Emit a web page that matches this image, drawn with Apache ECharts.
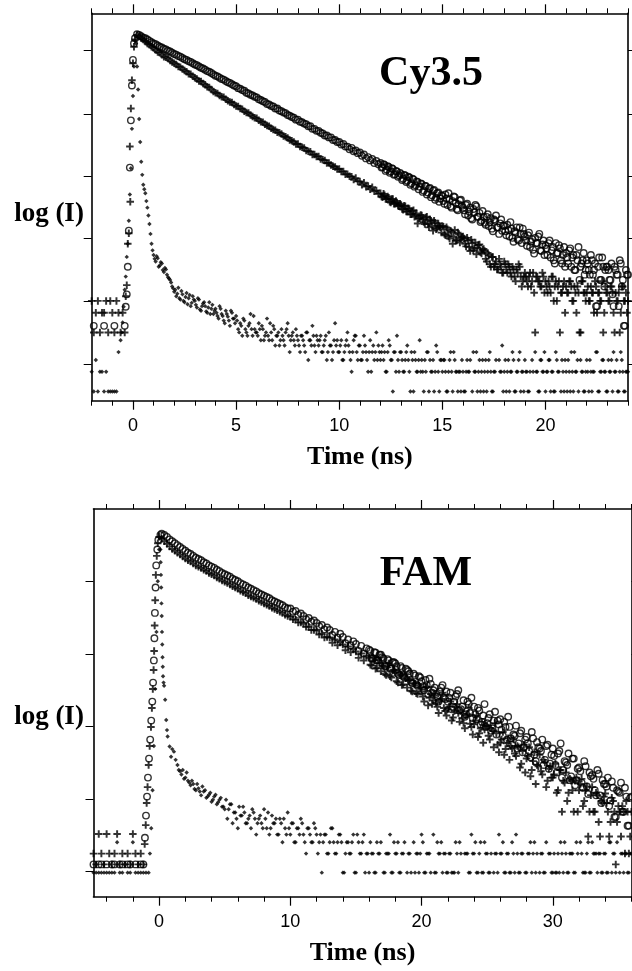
<!DOCTYPE html>
<html><head><meta charset="utf-8">
<script src="https://cdn.jsdelivr.net/npm/echarts@6/dist/echarts.min.js"></script>
<style>html,body{margin:0;padding:0;background:#fff}#c{width:632px;height:971px}</style>
</head><body><div id="c"></div>
<script>
// ---------- Cy3.5 panel (time base: -2 ns, 0.1 ns per channel) ----------
const cyT0 = -2, cyStep = 0.1;
const cyXMin = -2, cyXMax = 24;
const cyYMin = -0.14, cyYMax = 5.76;
const cyMinorTicks = [-2,-1,1,2,3,4,6,7,8,9,11,12,13,14,16,17,18,19,21,22,23,24];
const cyMajorTicks = [0,5,10,15,20];
const cyYTicks = [0.42,1.37,2.33,3.28,4.23,5.19];

const cyIrf = [0.30,0,0.48,0,0.30,0.30,0,0.30,0,0,0,0,0,0.60,0.78,1.05,1.55,
2.05,2.60,3.40,4.50,5.35,
4.95,4.15,3.50,3.15,3.02,2.80,2.55,2.25,
2.08,1.98,2.03,1.92,1.95,1.82,1.86,1.74,1.70,1.60,
1.52,1.45,1.58,1.40,1.48,1.36,1.50,1.42,1.30,1.45,
1.38,1.28,1.40,1.23,1.34,1.30,1.20,1.36,1.26,1.18,
1.26,1.15,1.30,1.18,1.08,1.23,1.14,1.00,1.20,1.11,
1.15,0.95,1.04,0.85,1.08,0.90,1.00,1.18,0.85,0.95,
0.90,1.04,0.78,0.95,0.85,1.11,0.78,0.90,1.00,0.70,
0.85,0.70,0.95,0.78,0.90,1.04,0.60,0.85,0.78,0.95,
0.78,0.60,0.85,0.70,0.90,0.48,0.78,1.00,0.70,0.85,
0.70,0.85,0.60,0.78,0.48,0.90,0.70,0.60,1.04,0.78,
0.60,0.78,0.48,0.70,0.90,0.60,0.30,0.78,0.85,0.48,
0.70,0.48,0.85,0.60,0.30,0.78,0.60,0.48,0.90,0.70,
0.48,0.70,0.60,0.30,0.78,0.48,0,0.60,0.85,0.30,
0.60,0.30,0.48,0.70,0.30,0.60,0,0.48,0.30,0.78,
0.48,0,0.30,0.60,0.48,0.30,0,0.70,0.30,0.48,
0.30,0.48,0,0.30,0.60,0,0.48,0.30,0.30,0,
0.30,0,0.48,0.30,null,0.60,0.30,0,0.48,0.30,
0,0.48,0.30,0.60,0,0.30,0.48,null,0.30,0.70,
0.30,0,0.48,0.30,0.60,0,0.30,0.48,0,0.30,
0.48,0.30,0,null,0.30,0.60,0.30,0,0.48,0.30,
0,0.30,0.48,0.30,0,0.60,0.30,null,0.48,0,
0.30,0.48,0,0.30,0.60,0.30,0,0.48,0.30,0,
0.48,0,0.30,0.30,null,0.60,0,0.30,0.48,0.30,
0,0.30,0.48,0.60,0.30,0,0.30,0.48,0,0.30,
0.30];
// interleaved channels of the IRF tail, 1.05 ns .. 23.95 ns
const cyIrfB0 = 1.05;
const cyIrfB = [2.02,2.06,1.90,1.97,1.85,1.88,1.78,1.72,1.66,1.57,
1.55,1.49,1.42,1.53,1.38,1.44,1.33,1.47,1.35,1.40,
1.32,1.42,1.25,1.30,1.36,1.22,1.28,1.18,1.32,1.23,
1.20,1.11,1.26,1.15,1.04,1.18,1.08,1.23,1.11,1.04,
1.08,0.90,1.00,1.11,0.95,0.85,1.04,0.95,1.15,0.90,
0.85,0.95,1.00,0.78,0.90,0.85,1.04,0.78,0.95,0.85,
0.90,0.78,0.85,0.70,0.95,0.85,0.78,0.90,0.70,0.85,
0.70,0.85,0.78,0.60,0.90,0.78,0.70,0.85,0.60,0.78,
0.78,0.60,0.70,0.85,0.60,0.70,0.48,0.78,0.70,0.60,
0.70,0.48,0.60,0.78,0.70,0.48,0.60,0.85,0.60,0.70,
0.48,0.60,0.70,0.48,0.60,0.30,0.70,0.60,0.48,0.60,
0.60,0.48,0.30,0.60,0.70,0.48,0.60,0.30,0.48,0.60,
0.48,0.30,0.60,0.48,0,0.48,0.60,0.30,0.48,0.30,
0.30,0.48,0.60,0,0.30,0.48,0.30,0.60,0,0.48,
0.48,0.30,0,0.48,0.30,0.60,0.30,0,0.30,0.48,
0,0.30,0.30,0.48,0,0.30,0.60,0.30,0,0.48,
0.30,0,0.48,0.30,0,0.30,null,0.48,0.30,0,
0.48,0.30,0,0.30,0.48,0,0.30,0.60,0.30,0,
0.30,0,0.30,0.48,null,0.30,0,0.48,0.30,0.60,
0.30,0.48,0,0.30,0,0.48,0.30,0,0.30,0.48,
0,0.30,0.60,0,0.30,0.48,null,0.30,0,0.30,
0.30,0.48,0,0.30,0.60,0,0.30,0.48,0.30,0,
0.48,0.30,0,0.30,0.48,0,0.60,0.30,0,0.30];
const cyIrfEdge = [[-0.55,0.9],[-0.45,1.29],[-0.35,1.75],[-0.25,2.25],[-0.15,3.0],[-0.05,4.0],[0.05,4.95],[0.15,5.3],[0.25,4.6],[0.35,3.8],[0.45,3.3],[0.55,3.08],[0.65,2.9],[0.75,2.68],[0.85,2.4],[0.95,2.15]];

const cyPlus = [1.38,0.90,1.20,1.38,0.90,1.20,1.20,1.38,0.90,1.38,1.20,0.90,1.38,1.20,0.90,1.20,0.90,
1.62,2.41,4.31,5.00,5.36,
5.43,5.41,5.38,5.36,5.33,5.30,5.28,5.25,
5.23,5.20,5.17,5.16,5.13,5.10,5.09,5.07,5.04,5.02,
5.00,4.98,4.95,4.94,4.91,4.89,4.87,4.84,4.83,4.80,
4.78,4.76,4.73,4.72,4.69,4.67,4.64,4.63,4.60,4.57,
4.55,4.54,4.51,4.49,4.48,4.45,4.43,4.41,4.40,4.37,
4.35,4.34,4.31,4.30,4.27,4.25,4.24,4.21,4.19,4.17,
4.16,4.13,4.11,4.10,4.07,4.05,4.04,4.01,3.99,3.98,
3.95,3.94,3.92,3.89,3.88,3.86,3.83,3.82,3.80,3.77,
3.77,3.73,3.72,3.71,3.67,3.66,3.65,3.61,3.61,3.58,
3.58,3.54,3.53,3.52,3.48,3.48,3.45,3.43,3.42,3.39,
3.39,3.35,3.35,3.31,3.31,3.28,3.27,3.23,3.25,3.20,
3.20,3.15,3.18,3.12,3.13,3.08,3.11,3.05,3.06,3.01,
3.02,2.96,2.99,2.93,2.95,2.88,2.93,2.86,2.88,2.82,
2.84,2.77,2.82,2.74,2.78,2.70,2.76,2.68,2.56,2.64,
2.68,2.58,2.65,2.55,2.62,2.52,2.60,2.47,2.56,2.50,
2.52,2.40,2.50,2.36,2.45,2.25,2.46,2.30,2.40,2.33,
2.36,2.25,2.34,2.20,2.31,2.15,2.27,2.19,2.24,2.10,
2.17,2.02,2.11,1.94,2.05,1.90,1.98,1.86,1.94,1.81,
1.98,1.86,1.94,1.81,1.90,1.75,1.86,1.94,1.75,1.68,
1.81,1.68,1.75,1.60,1.81,0.90,1.75,1.68,1.60,1.75,
1.68,1.505,1.60,1.75,1.38,1.68,1.60,0.90,1.505,1.68,
1.60,1.505,1.68,1.38,1.60,1.20,1.505,0.90,1.68,1.505,
1.505,1.38,1.60,1.505,1.68,1.20,1.505,1.38,0.90,1.60,
1.505,1.38,1.60,1.20,1.505,1.38,0.90,1.60,1.38,1.505,
1.38];
const cyPlusB0 = 12.05;
const cyPlusB = [2.97,3.01,2.93,2.97,2.89,2.93,2.86,2.90,2.83,2.86,
2.78,2.83,2.74,2.79,2.70,2.75,2.66,2.71,2.63,2.69,
2.62,2.55,2.66,2.50,2.60,2.45,2.57,2.49,2.52,2.42,
2.51,2.38,2.47,2.33,2.43,2.36,2.30,2.42,2.27,2.35,
2.33,2.21,2.30,2.14,2.26,2.18,2.09,2.23,2.12,2.16,
2.14,1.98,2.08,1.90,2.05,1.94,1.86,2.02,1.90,1.81,
1.94,1.81,1.90,1.75,1.86,1.68,1.81,1.90,1.60,1.75,
1.75,1.60,1.81,1.68,1.505,1.75,1.68,1.60,1.81,1.505,
1.60,1.68,1.505,1.75,1.60,1.38,1.68,1.505,1.60,1.20,
1.505,1.68,1.60,1.38,1.505,1.60,0.90,1.68,1.505,1.38,
1.60,1.38,1.505,1.20,1.60,1.505,1.38,1.68,1.20,1.505,
1.38,1.60,1.505,0.90,1.38,1.505,1.20,1.60,1.38,1.20];
const cyPlusEdge = [[-0.35,1.45],[-0.25,2.25],[-0.15,3.73],[-0.13,2.89],[-0.05,4.74],[0.05,5.25]];

const cyCircle = [null,1.0,null,null,null,null,1.0,null,null,null,null,1.0,null,null,null,null,1.0,
1.48,2.45,4.13,5.05,5.38,
5.44,5.43,5.41,5.39,5.38,5.36,5.34,5.32,
5.30,5.29,5.27,5.25,5.24,5.22,5.21,5.19,5.18,5.16,
5.14,5.13,5.11,5.10,5.08,5.06,5.05,5.03,5.02,5.00,
4.98,4.97,4.95,4.93,4.92,4.90,4.88,4.87,4.85,4.83,
4.81,4.80,4.78,4.76,4.75,4.73,4.71,4.70,4.68,4.66,
4.65,4.62,4.61,4.59,4.58,4.55,4.54,4.52,4.51,4.49,
4.48,4.45,4.44,4.42,4.41,4.38,4.37,4.35,4.34,4.31,
4.31,4.28,4.27,4.25,4.24,4.21,4.20,4.18,4.17,4.14,
4.14,4.11,4.10,4.08,4.07,4.04,4.04,4.00,4.00,3.97,
3.97,3.94,3.93,3.90,3.90,3.87,3.87,3.83,3.83,3.80,
3.80,3.76,3.77,3.73,3.73,3.69,3.71,3.66,3.67,3.63,
3.64,3.59,3.61,3.55,3.57,3.52,3.54,3.48,3.51,3.46,
3.48,3.42,3.45,3.38,3.42,3.35,3.39,3.31,3.35,3.29,
3.31,3.24,3.29,3.21,3.26,3.17,3.23,3.14,3.19,3.12,
3.16,3.06,3.13,3.03,3.10,2.99,3.07,2.95,3.03,2.94,
2.98,2.86,2.94,3.02,2.82,2.90,2.96,2.78,2.85,2.92,
2.80,2.70,2.86,2.74,2.64,2.78,2.84,2.66,2.72,2.60,
2.66,2.54,2.70,2.58,2.48,2.62,2.68,2.50,2.56,2.45,
2.52,2.38,2.46,2.58,2.34,2.44,2.50,2.30,2.40,2.48,
2.36,2.22,2.42,2.28,2.16,2.34,2.26,2.40,2.14,2.30,
2.23,2.08,2.30,2.15,2.00,2.26,2.11,2.18,1.95,2.20,
2.11,1.95,2.18,2.04,1.85,2.08,2.20,1.90,2.00,1.78,
2.00,1.85,2.08,1.78,1.95,1.30,2.04,1.70,1.90,1.85,
1.90,1.70,1.95,1.30,1.85,1.78,2.00,1.60,1.00,1.85,
1.78];
const cyCircleB0 = 12.05;
const cyCircleB = [3.41,3.46,3.36,3.43,3.33,3.40,3.30,3.36,3.27,3.33,
3.22,3.30,3.19,3.27,3.15,3.24,3.12,3.20,3.08,3.17,
3.04,3.13,3.00,3.09,2.96,3.06,2.92,3.02,2.89,2.99,
2.90,3.00,2.84,2.93,2.80,2.97,2.87,2.76,2.91,2.83,
2.76,2.84,2.68,2.80,2.62,2.73,2.82,2.66,2.58,2.75,
2.57,2.66,2.52,2.64,2.44,2.60,2.50,2.40,2.62,2.53,
2.44,2.54,2.36,2.48,2.28,2.42,2.32,2.50,2.26,2.40,
2.30,2.38,2.20,2.32,2.10,2.26,2.36,2.15,2.24,2.08,
2.18,2.26,2.04,2.20,1.95,2.11,2.23,2.00,2.08,1.90,
2.04,2.15,1.90,2.08,1.85,2.00,1.70,1.95,2.11,1.85,
1.95,1.78,2.00,1.85,1.30,1.90,1.70,2.04,1.60,1.90,
1.85,1.70,1.48,1.90,1.78,1.30,1.95,1.70,1.00,1.78];
const cyCircleEdge = [[-0.35,1.29],[-0.25,1.9],[-0.15,3.41],[-0.05,4.66],[0.05,5.3]];

// ---------- FAM panel (time base: -5 ns, 0.2 ns per channel) ----------
const famT0 = -5, famStep = 0.2;
const famXMin = -5, famXMax = 36;
const famYMin = -0.38, famYMax = 5.74;
const famMinorTicks = [-4,-2,2,4,6,8,12,14,16,18,22,24,26,28,32,34,36];
const famMajorTicks = [0,10,20,30];
const famYTicks = [0.02,1.165,2.31,3.455,4.6];

const famIrf = [0,0,0,0,0,0,0,0,0,0.48,0,0,null,0,0,0.48,0,0,0,0,
0,0,
null,null,null,null,null,null,null,null,null,null,
1.70,1.60,1.62,1.50,1.45,1.38,1.40,1.30,1.33,1.22,1.28,1.18,1.23,1.12,1.20,1.08,1.15,1.04,
1.0,0.85,1.08,0.78,0.95,0.70,0.90,1.04,0.78,0.85,
0.70,0.95,0.60,0.85,0.78,1.0,0.70,0.60,0.90,0.78,
0.60,0.85,0.48,0.70,0.95,0.60,0.78,0.48,0.70,0.85,
0.60,0.30,0.70,0.48,0.78,0.60,
0.48,0,0.60,0.30,0.48,0.70,0.30,0.48,0.60,0,0.30,0.48,0.30,0.60,0,0.48,0.30,0.60,0.30,0,
0.30,0,0.48,0.30,null,0,0.30,0.60,0,0.30,
0.48,0,0.30,null,0.30,0,0.48,0.30,0,0.60,
0,0.30,0.30,null,0,0.48,0.30,0,0.30,0,
0.30,0,0.48,0,0.30,null,0.30,0,0.60,0.30,
0,0.30,0,0.48,0.30,0,null,0.30,0,0.30,
0.48,0,0.30,0,0.30,0.60,0,0.30,null,0,
0.30,0,0.48,0.30,0,0.30,0,null,0.30,0,
0,0.30,0.48,0,0.30,0,0.30,0,0.48,null,
0.30,0,0.30,0,0.48,0.30,0,0.30,0,0.30,
0,0.48,0.30,0,null,0.30,0,0.30,0,0.30];
const famIrfB0 = 1.5;
const famIrfB = [1.62,1.55,1.48,1.58,1.42, 1.45,1.32,1.40,1.28,1.36, 1.30,1.20,1.26,1.15,1.23,
1.11,1.18,1.04,1.15,1.00, 1.08,0.95,0.85,1.04,0.90, 0.95,0.78,0.90,1.00,0.85,
0.78,0.90,0.70,0.85,0.95, 0.70,0.78,0.85,0.60,0.78, 0.85,0.60,0.70,0.78,0.48,
0.70,0.60,0.78,0.48,0.70, 0.60,0.48,0.70,0.30,0.60, 0.48,0.60,0.30,0.70,0.48,
0.30,0.60,0.48,0,0.48, 0.30,0.48,0,0.60,0.30, 0.48,0,0.30,0.48,0.30,
0,0.30,0.48,0,0.30, 0.30,0,0.48,0.30,0, 0.30,0.48,0,0.30,null,
0,0.30,0.30,0.48,0, 0.30,0,0.60,0,0.30, 0.48,0.30,0,0.30,0,
0,0.30,0.48,null,0.30, 0.30,0,0.30,0.48,0, 0.48,0,0.30,0,0.30,
0,0.30,0.60,0.30,0, 0.30,0,0.48,0,0.30, 0,0.30,0,0.30,0.48,
0.30,0,null,0.30,0, 0.48,0.30,0,0.30,0, 0,0.30,0.48,0,0.30,
0.30,0,0.30,0.48,0, 0,0.48,0,0.30,0.30, 0.30,0,0.30,0,0.48,
0,0.30,0.48,0,0.30, 0.30,0,0.30];
const famIrfEdge = [[-0.7,0.3],[-0.6,0.7],[-0.5,1.3],[-0.4,2.0],[-0.3,2.9],[-0.2,3.8],[-0.1,4.6],[0.0,5.1],[0.06,5.28],[0.1,5.1],[0.12,4.9],[0.14,4.7],[0.16,4.5],[0.18,4.25],[0.2,4.05],[0.22,3.8],[0.24,3.6],[0.26,3.4],[0.28,3.25],[0.3,3.1],[0.34,3.0],[0.38,2.95],[0.46,2.73],[0.54,2.41],[0.6,2.25],[0.65,2.15],[0.8,1.99],[0.91,1.83],[1.0,1.95],[1.13,1.91],[1.26,1.78]];

const famPlus = [0.30,0.13,0.61,0.30,0.13,0.61,0.30,0.13,0.30,0.61,0.13,0.30,0.13,0.30,0.13,0.61,0.30,0.13,0.30,0.13,
null,null,null,null,null,null,
5.27,5.23,5.19,5.15,
5.11,5.08,5.05,5.02,4.99, 4.96,4.93,4.91,4.88,4.85,
4.83,4.81,4.78,4.76,4.73, 4.71,4.69,4.66,4.64,4.61,
4.59,4.57,4.55,4.52,4.50, 4.48,4.45,4.43,4.41,4.38,
4.36,4.34,4.32,4.29,4.27, 4.25,4.23,4.21,4.18,4.16,
4.14,4.12,4.10,4.07,4.05, 4.04,4.00,3.99,3.95,3.95,
3.93,3.88,3.88,3.83,3.83, 3.82,3.76,3.77,3.71,3.72,
3.71,3.63,3.68,3.59,3.64, 3.60,3.51,3.57,3.48,3.53,
3.49,3.39,3.46,3.35,3.42, 3.39,3.27,3.35,3.23,3.31,
3.27,3.14,3.24,3.10,3.19, 3.16,3.00,3.12,2.97,3.07,
3.03,2.87,2.99,2.83,2.95,
2.86,2.70,2.93,2.76,2.66, 2.80,2.62,2.71,2.84,2.55,
2.58,2.70,2.45,2.62,2.52, 2.55,2.36,2.48,2.60,2.30,
2.34,2.48,2.20,2.38,2.26, 2.32,2.10,2.24,2.36,2.02,
2.05,2.22,1.95,2.12,2.00, 2.10,1.84,1.98,1.72,2.02,
1.80,1.98,1.62,1.90,1.70, 1.86,1.55,1.74,1.45,1.68,
1.50,1.72,1.30,1.62,1.45, 1.58,1.26,1.45,0.96,1.50,
1.30,1.48,1.13,1.36,0.96, 1.35,0.96,1.22,0.57,1.10,
1.25,0.96,0.80,1.13,0.13, 1.05,0.57,0.96,1.13,0.30,
0.96];
const famPlusB0 = 16.1;
const famPlusB = [3.28,3.40,3.22,3.36,3.18, 3.26,3.12,3.30,3.08,3.20, 3.02,3.15,2.96,3.10,2.92,
3.04,2.86,2.98,2.82,2.92,
2.78,2.92,2.64,2.82,2.72, 2.68,2.52,2.74,2.60,2.48,
2.62,2.40,2.55,2.66,2.38, 2.44,2.28,2.50,2.35,2.18,
2.40,2.14,2.28,2.05,2.32, 2.16,2.28,1.98,2.20,1.90,
2.10,1.86,2.04,1.78,1.96, 1.88,2.00,1.66,1.92,1.58,
1.84,1.52,1.76,1.40,1.68, 1.60,1.78,1.35,1.64,1.50,
1.55,1.26,1.62,0.96,1.42, 1.13,1.48,1.30,1.45,0.96,
1.40,1.05,1.30,0.57,1.22, 0.96,1.26,0.80,1.13,1.20,
1.10,0.57,1.18,0.96,0.80, 0.96,1.05,0.30,0.96,0.57];
const famPlusEdge = [[-1.1,0.45],[-1.02,0.75],[-0.95,1.1],[-0.88,1.35],[-0.8,1.7],[-0.72,2.0],[-0.62,2.3],[-0.55,2.6],[-0.48,2.9],[-0.42,3.2],[-0.38,3.5],[-0.34,3.9],[-0.3,4.3],[-0.25,4.7],[-0.18,5.0],[-0.1,5.2],[0.0,5.3]];

const famCircle = [0.13,null,0.13,0.13,null,0.13,null,0.13,0.13,null,0.13,0.13,null,0.13,0.13,null,0.13,null,0.13,0.13,
null,null,null,null,null,null,
5.35,5.33,5.30,5.26,
5.23,5.20,5.17,5.14,5.11, 5.08,5.05,5.03,5.00,4.97,
4.95,4.93,4.90,4.88,4.85, 4.83,4.81,4.78,4.76,4.73,
4.71,4.69,4.67,4.64,4.62, 4.60,4.57,4.55,4.53,4.50,
4.48,4.46,4.44,4.41,4.39, 4.37,4.35,4.33,4.30,4.28,
4.26,4.24,4.22,4.19,4.17, 4.17,4.12,4.13,4.07,4.09,
4.05,4.00,4.02,3.96,3.98, 3.94,3.89,3.91,3.84,3.87,
3.83,3.75,3.80,3.71,3.77, 3.72,3.62,3.68,3.59,3.65,
3.61,3.50,3.58,3.46,3.54, 3.52,3.38,3.48,3.35,3.44,
3.40,3.26,3.37,3.22,3.32, 3.30,3.14,3.26,3.10,3.22,
3.18,3.01,3.14,2.97,3.10,
3.02,2.88,2.96,3.06,2.84, 2.92,2.78,2.86,2.96,2.74,
2.70,2.84,2.62,2.78,2.88, 2.58,2.72,2.50,2.66,2.76,
2.62,2.42,2.56,2.38,2.66, 2.36,2.50,2.28,2.54,2.40,
2.42,2.16,2.30,2.46,2.12, 2.18,2.32,2.04,2.24,1.98,
2.14,1.92,2.22,1.86,2.06, 1.96,2.10,1.78,2.02,1.72,
1.96,1.70,1.88,2.04,1.62, 1.74,1.88,1.52,1.80,1.46,
1.66,1.42,1.76,1.36,1.58, 1.54,1.30,1.62,1.22,1.46,
1.40,1.50,1.14,1.34,0.88, 1.28,1.42,0.96,1.20,0.74,
1.20];
const famCircleB0 = 16.1;
const famCircleB = [3.50,3.38,3.47,3.35,3.44, 3.38,3.26,3.35,3.22,3.32, 3.26,3.12,3.23,3.08,3.20,
3.14,2.99,3.11,2.95,3.08,
2.94,3.04,2.82,2.98,2.88, 2.82,2.70,2.92,2.76,2.86,
2.76,2.58,2.70,2.82,2.56, 2.62,2.46,2.70,2.52,2.44,
2.50,2.60,2.34,2.48,2.30, 2.44,2.24,2.40,2.18,2.34,
2.26,2.38,2.10,2.30,2.02, 2.16,1.96,2.20,1.90,2.10,
2.04,1.82,2.12,1.76,1.98, 1.92,1.70,2.00,1.64,1.86,
1.84,1.58,1.92,1.50,1.76, 1.70,1.46,1.80,1.38,1.64,
1.60,1.34,1.68,1.24,1.52, 1.48,1.22,1.56,1.10,1.40,
1.36,1.05,1.44,0.88,1.30, 1.26,0.96,1.34,0.74,1.18];
const famCircleEdge = [[-1.08,0.55],[-1.0,0.9],[-0.92,1.2],[-0.85,1.5],[-0.77,1.8],[-0.68,2.1],[-0.6,2.4],[-0.52,2.7],[-0.46,3.0],[-0.4,3.35],[-0.36,3.7],[-0.32,4.1],[-0.27,4.5],[-0.22,4.85],[-0.14,5.1],[-0.06,5.25],[0.1,5.33]];

// ---------- build ----------
function channelPairs(vals, t0, step){
  const out = [];
  vals.forEach((v,i)=>{ if(v!==null) out.push([+(t0+i*step).toFixed(3), v]); });
  return out;
}
const PLUS = 'path://M3.7,0H6.3V3.7H10V6.3H6.3V10H3.7V6.3H0V3.7H3.7Z';
const BLACK = '#000';

function xAxes(gi, mn, mx, minor, major){
  const base = {gridIndex:gi, type:'value', min:mn, max:mx, splitLine:{show:false}};
  return [
    Object.assign({}, base, {position:'bottom', axisLine:{show:true,onZero:false,lineStyle:{color:BLACK,width:1.6}},
      axisTick:{show:true,inside:false,length:5,customValues:minor,lineStyle:{color:BLACK,width:1}}, axisLabel:{show:false}}),
    Object.assign({}, base, {position:'bottom', axisLine:{show:false,onZero:false},
      axisTick:{show:true,inside:false,length:9,customValues:major,lineStyle:{color:BLACK,width:1.2}},
      axisLabel:{show:true,customValues:major,margin:16,color:BLACK,fontSize:18,fontFamily:'"Liberation Sans", Arial, sans-serif'},
      name:'Time (ns)', nameLocation:'middle', nameGap:44,
      nameTextStyle:{color:BLACK,fontSize:26,fontWeight:'bold',fontFamily:'"Liberation Serif", "Times New Roman", serif'}}),
    Object.assign({}, base, {position:'top', axisLine:{show:true,onZero:false,lineStyle:{color:BLACK,width:1.6}},
      axisTick:{show:true,inside:false,length:5,customValues:minor,lineStyle:{color:BLACK,width:1}}, axisLabel:{show:false}}),
    Object.assign({}, base, {position:'top', axisLine:{show:false,onZero:false},
      axisTick:{show:true,inside:false,length:9,customValues:major,lineStyle:{color:BLACK,width:1.2}}, axisLabel:{show:false}})
  ];
}
function yAxes(gi, mn, mx, ticks){
  const base = {gridIndex:gi, type:'value', min:mn, max:mx, splitLine:{show:false}, axisLabel:{show:false},
    axisLine:{show:true,onZero:false,lineStyle:{color:BLACK,width:1.6}},
    axisTick:{show:true,inside:false,length:8,customValues:ticks,lineStyle:{color:BLACK,width:1}}};
  return [Object.assign({}, base, {position:'left'}), Object.assign({}, base, {position:'right'})];
}
function scat(kind, xi, yi, data){
  const s = {type:'scatter', xAxisIndex:xi, yAxisIndex:yi, data:data, clip:true, silent:true, animation:false};
  if(kind==='irf'){ s.symbol='diamond'; s.symbolSize=4.4; s.itemStyle={color:BLACK}; }
  if(kind==='plus'){ s.symbol=PLUS; s.symbolSize=7.5; s.itemStyle={color:BLACK}; }
  if(kind==='circle'){ s.symbol='circle'; s.symbolSize=6.5; s.itemStyle={color:'rgba(0,0,0,0)',borderColor:BLACK,borderWidth:1.4}; }
  return s;
}

const option = {
  backgroundColor:'#fff',
  animation:false,
  grid:[
    {left:91.7, top:13.3, width:536.3, height:387.4, containLabel:false},
    {left:93.5, top:509, width:538, height:387.7, containLabel:false}
  ],
  xAxis: xAxes(0, cyXMin, cyXMax, cyMinorTicks, cyMajorTicks).concat(xAxes(1, famXMin, famXMax, famMinorTicks, famMajorTicks)),
  yAxis: yAxes(0, cyYMin, cyYMax, cyYTicks).concat(yAxes(1, famYMin, famYMax, famYTicks)),
  series:[
    scat('circle',0,0, channelPairs(cyCircle, cyT0, cyStep).concat(channelPairs(cyCircleB, cyCircleB0, cyStep), cyCircleEdge)),
    scat('plus',0,0, channelPairs(cyPlus, cyT0, cyStep).concat(channelPairs(cyPlusB, cyPlusB0, cyStep), cyPlusEdge)),
    scat('irf',0,0, channelPairs(cyIrf, cyT0, cyStep).concat(channelPairs(cyIrfB, cyIrfB0, cyStep), cyIrfEdge)),
    scat('circle',4,2, channelPairs(famCircle, famT0, famStep).concat(channelPairs(famCircleB, famCircleB0, famStep), famCircleEdge)),
    scat('plus',4,2, channelPairs(famPlus, famT0, famStep).concat(channelPairs(famPlusB, famPlusB0, famStep), famPlusEdge)),
    scat('irf',4,2, channelPairs(famIrf, famT0, famStep).concat(channelPairs(famIrfB, famIrfB0, famStep), famIrfEdge))
  ],
  graphic:[
    {type:'text', x:431, y:74, style:{text:'Cy3.5', fill:BLACK, font:'bold 42px "Liberation Serif", "Times New Roman", serif', align:'center', verticalAlign:'middle'}},
    {type:'text', x:426, y:574, style:{text:'FAM', fill:BLACK, font:'bold 42px "Liberation Serif", "Times New Roman", serif', align:'center', verticalAlign:'middle'}},
    {type:'text', x:49, y:214, style:{text:'log (I)', fill:BLACK, font:'bold 27px "Liberation Serif", "Times New Roman", serif', align:'center', verticalAlign:'middle'}},
    {type:'text', x:49, y:717, style:{text:'log (I)', fill:BLACK, font:'bold 27px "Liberation Serif", "Times New Roman", serif', align:'center', verticalAlign:'middle'}}
  ]
};
const chart = echarts.init(document.getElementById('c'), null, {renderer:'canvas'});
chart.setOption(option);
</script></body></html>
